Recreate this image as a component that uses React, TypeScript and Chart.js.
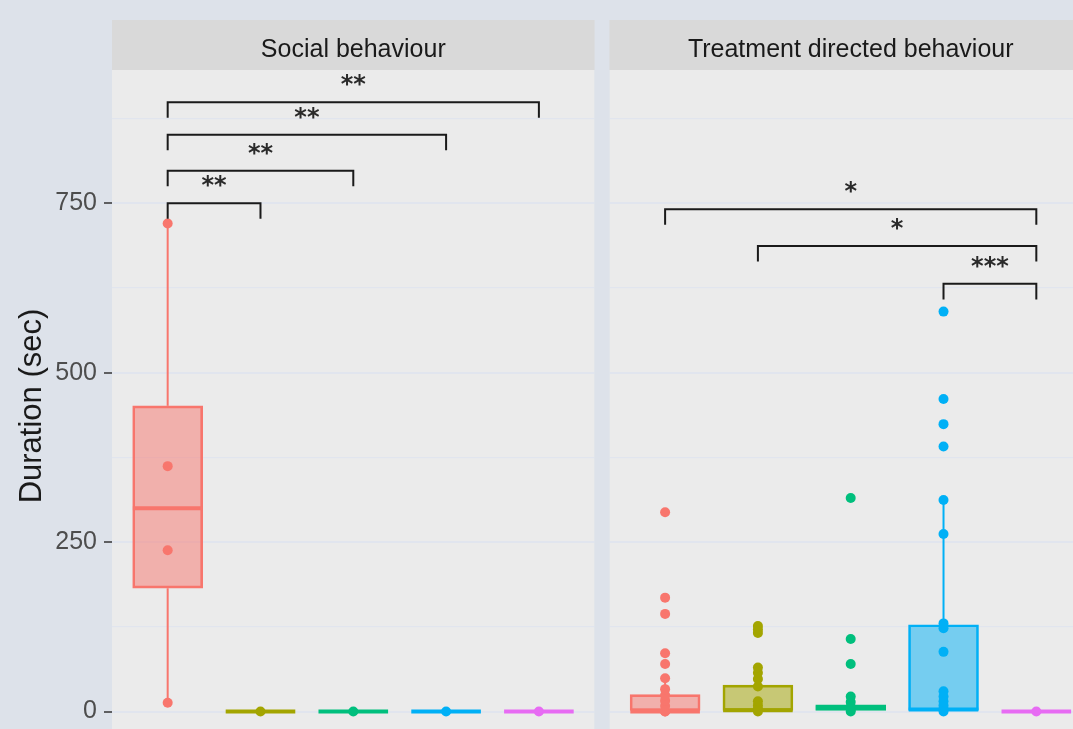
import React, { useEffect, useRef } from 'react';
import { Chart, registerables } from 'chart.js';

Chart.register(...registerables);

// ---------- data ----------
const PANELS = ['Social behaviour', 'Treatment directed behaviour'];
const GROUP_COLORS = ['#F8766D', '#A3A500', '#00BF7D', '#00B0F6', '#E76BF3'];

const Y_TICKS = [0, 250, 500, 750];
const Y_MINOR = [125, 375, 625, 875];

// Social behaviour: box statistics per group
const socialQ1 = [182, 0, 0, 0, 0];
const socialMedian = [300, 0, 0, 0, 0];
const socialQ3 = [451, 0, 0, 0, 0];
const socialWhiskerLow = [13, 0, 0, 0, 0];
const socialWhiskerHigh = [720, 0, 0, 0, 0];
const socialPoints = [[13, 238, 362, 720], [0], [0], [0], [0]];

// Treatment directed behaviour: box statistics per group
const treatQ1 = [0, 0, 0, 0, 0];
const treatMedian = [0, 2, 5, 3, 0];
const treatQ3 = [25, 39, 10, 128, 0];
const treatWhiskerLow = [0, 0, 0, 0, 0];
const treatWhiskerHigh = [49, 65, 22, 312, 0];
const treatPoints = [
  [0, 0, 8, 16, 24, 33, 49, 70, 86, 144, 168, 294],
  [0, 4, 9, 15, 37, 48, 57, 65, 116, 121, 126],
  [0, 3, 7, 14, 22, 70, 107, 315],
  [0, 4, 9, 15, 22, 30, 88, 123, 130, 262, 312, 391, 424, 461, 590],
  [0],
];

// significance brackets
const socialBracketFrom = [1, 1, 1, 1];
const socialBracketTo = [2, 3, 4, 5];
const socialBracketY = [750, 798, 851, 899];
const socialBracketLabel = ['**', '**', '**', '**'];

const treatBracketFrom = [1, 2, 4];
const treatBracketTo = [5, 5, 5];
const treatBracketY = [741, 687, 631];
const treatBracketLabel = ['*', '*', '***'];

// ---------- layout / style ----------
const CANVAS_W = 1100;
const CANVAS_H = 800;
const AREA_LEFT = 112;
const AREA_RIGHT = 1092;
const AREA_TOP = 70;
const AREA_BOTTOM = 742;
const STRIP_TOP = 20;
const PANEL_UNITS = 5.2;
const GAP_UNITS = 0.16;
const PANEL_OFFSETS = [0, PANEL_UNITS + GAP_UNITS];
const X_MIN = 0.4;
const X_MAX = X_MIN + 2 * PANEL_UNITS + GAP_UNITS;
const Y_MIN = -45;
const Y_MAX = 946.5;
const BOX_HALF = 0.375;
const TIP = 23;

const BG = '#dde2ea';
const PANEL_BG = '#ebebeb';
const STRIP_BG = '#d9d9d9';
const GRID = '#e1e5ee';
const FONT = '"Liberation Sans", Arial, sans-serif';

function rgba(hex: string, a: number) {
  const n = parseInt(hex.slice(1), 16);
  return `rgba(${(n >> 16) & 255},${(n >> 8) & 255},${n & 255},${a})`;
}
const xPos = (panel: number, g: number) => g + 1 + PANEL_OFFSETS[panel];

type Stats = { q1: number[]; med: number[]; q3: number[]; lo: number[]; hi: number[]; pts: number[][] };
const PANEL_STATS: Stats[] = [
  { q1: socialQ1, med: socialMedian, q3: socialQ3, lo: socialWhiskerLow, hi: socialWhiskerHigh, pts: socialPoints },
  { q1: treatQ1, med: treatMedian, q3: treatQ3, lo: treatWhiskerLow, hi: treatWhiskerHigh, pts: treatPoints },
];
const PANEL_BRACKETS = [
  { from: socialBracketFrom, to: socialBracketTo, y: socialBracketY, label: socialBracketLabel },
  { from: treatBracketFrom, to: treatBracketTo, y: treatBracketY, label: treatBracketLabel },
];

function buildDatasets() {
  const boxData: any[] = [];
  const boxFill: string[] = [];
  const boxBorder: string[] = [];
  const lines: any[] = [];
  const points: any[] = [];
  PANEL_STATS.forEach((s, p) => {
    GROUP_COLORS.forEach((col, g) => {
      const x = xPos(p, g);
      if (s.q3[g] > s.q1[g]) {
        boxData.push({ x, y: [s.q1[g], s.q3[g]] });
        boxFill.push(rgba(col, 0.5));
        boxBorder.push(col);
      }
      if (s.hi[g] > s.q3[g]) {
        lines.push({ type: 'line', order: 2, data: [{ x, y: s.q3[g] }, { x, y: s.hi[g] }], borderColor: col, borderWidth: 2, pointRadius: 0 });
      }
      if (s.lo[g] < s.q1[g]) {
        lines.push({ type: 'line', order: 2, data: [{ x, y: s.q1[g] }, { x, y: s.lo[g] }], borderColor: col, borderWidth: 2, pointRadius: 0 });
      }
      lines.push({
        type: 'line', order: 1,
        data: [{ x: x - BOX_HALF, y: s.med[g] }, { x: x + BOX_HALF, y: s.med[g] }],
        borderColor: col, borderWidth: 4, pointRadius: 0, borderCapStyle: 'butt',
      });
      points.push({
        type: 'line', order: 0, showLine: false,
        data: s.pts[g].map((v) => ({ x, y: v })),
        pointRadius: 5, pointBackgroundColor: col, pointBorderWidth: 0, borderColor: col,
      });
    });
  });
  const box = {
    type: 'bar', order: 3, data: boxData, backgroundColor: boxFill, borderColor: boxBorder,
    borderWidth: 2, borderSkipped: false, barThickness: 70,
  };
  return [...points, ...lines, box];
}

const facetPlugin = {
  id: 'facets',
  beforeDraw(chart: any) {
    const { ctx, chartArea, scales } = chart;
    const x = scales.x;
    ctx.save();
    ctx.fillStyle = BG;
    ctx.fillRect(0, 0, chart.width, chart.height);
    PANELS.forEach((name, p) => {
      const l = x.getPixelForValue(X_MIN + PANEL_OFFSETS[p]);
      const r = x.getPixelForValue(X_MIN + PANEL_OFFSETS[p] + PANEL_UNITS);
      ctx.fillStyle = PANEL_BG;
      ctx.fillRect(l, chartArea.top, r - l, chartArea.bottom - chartArea.top);
      ctx.fillStyle = STRIP_BG;
      ctx.fillRect(l, STRIP_TOP, r - l, chartArea.top - STRIP_TOP);
      ctx.fillStyle = '#1a1a1a';
      ctx.font = `25px ${FONT}`;
      ctx.textAlign = 'center';
      ctx.textBaseline = 'alphabetic';
      ctx.fillText(name, (l + r) / 2, 57);
    });
    ctx.restore();
  },
  beforeDatasetsDraw(chart: any) {
    const { ctx, chartArea, scales } = chart;
    const x = scales.x;
    const l = x.getPixelForValue(X_MIN + PANEL_UNITS);
    const r = x.getPixelForValue(X_MIN + PANEL_OFFSETS[1]);
    ctx.save();
    ctx.fillStyle = BG;
    ctx.fillRect(l, chartArea.top, r - l, chartArea.bottom - chartArea.top);
    ctx.restore();
  },
  afterDatasetsDraw(chart: any) {
    const { ctx, scales } = chart;
    const x = scales.x;
    const y = scales.y;
    ctx.save();
    PANEL_BRACKETS.forEach((b, p) => {
      b.from.forEach((f, i) => {
        const x1 = x.getPixelForValue(f + PANEL_OFFSETS[p]);
        const x2 = x.getPixelForValue(b.to[i] + PANEL_OFFSETS[p]);
        const yl = y.getPixelForValue(b.y[i]);
        const yt = y.getPixelForValue(b.y[i] - TIP);
        ctx.strokeStyle = '#1a1a1a';
        ctx.lineWidth = 2;
        ctx.lineJoin = 'miter';
        ctx.beginPath();
        ctx.moveTo(x1, yt);
        ctx.lineTo(x1, yl);
        ctx.lineTo(x2, yl);
        ctx.lineTo(x2, yt);
        ctx.stroke();
        ctx.font = 'bold 24px "DejaVu Sans", sans-serif';
        ctx.textAlign = 'center';
        ctx.textBaseline = 'alphabetic';
        const m = ctx.measureText(b.label[i]);
        const center = yl - 22;
        const base = center + (m.actualBoundingBoxAscent - m.actualBoundingBoxDescent) / 2;
        ctx.fillStyle = '#2a2a2a';
        ctx.fillText(b.label[i], (x1 + x2) / 2, base);
      });
    });
    ctx.restore();
  },
};

export default function App() {
  const ref = useRef<HTMLCanvasElement | null>(null);
  useEffect(() => {
    if (!ref.current) return;
    const chart = new Chart(ref.current, {
      type: 'bar',
      data: { datasets: buildDatasets() as any },
      options: {
        animation: false,
        responsive: false,
        maintainAspectRatio: false,
        layout: {
          padding: { top: AREA_TOP, left: 0, right: CANVAS_W - AREA_RIGHT, bottom: CANVAS_H - AREA_BOTTOM },
        },
        plugins: { legend: { display: false }, tooltip: { enabled: false } },
        scales: {
          x: { type: 'linear', min: X_MIN, max: X_MAX, display: false, offset: false },
          y: {
            type: 'linear',
            min: Y_MIN,
            max: Y_MAX,
            afterBuildTicks: (s: any) => {
              s.ticks = [...Y_TICKS, ...Y_MINOR].sort((a, b) => a - b).map((v) => ({ value: v }));
            },
            afterFit: (s: any) => {
              s.width = AREA_LEFT;
            },
            ticks: {
              autoSkip: false,
              padding: 7,
              color: '#4d4d4d',
              font: { family: FONT, size: 25 },
              callback: (v: any) => (Y_TICKS.includes(Number(v)) ? String(v) : ''),
            },
            grid: {
              color: (c: any) => GRID,
              lineWidth: (c: any) => (Y_TICKS.includes(c.tick?.value) ? 2 : 1.2),
              tickColor: (c: any) => (Y_TICKS.includes(c.tick?.value) ? '#333333' : 'rgba(0,0,0,0)'),
              tickLength: 8,
              tickWidth: 1.5,
            },
            border: { display: false },
            title: {
              display: true,
              text: 'Duration (sec)',
              color: '#1a1a1a',
              font: { family: FONT, size: 31 },
              padding: { top: 14, bottom: 0 },
            },
          },
        },
      },
      plugins: [facetPlugin],
    } as any);
    return () => chart.destroy();
  }, []);
  return (
    <div style={{ position: 'fixed', left: 0, top: 0, width: 1073, height: 729, overflow: 'hidden', background: BG }}>
      <canvas ref={ref} width={CANVAS_W} height={CANVAS_H} style={{ display: 'block' }} />
    </div>
  );
}
